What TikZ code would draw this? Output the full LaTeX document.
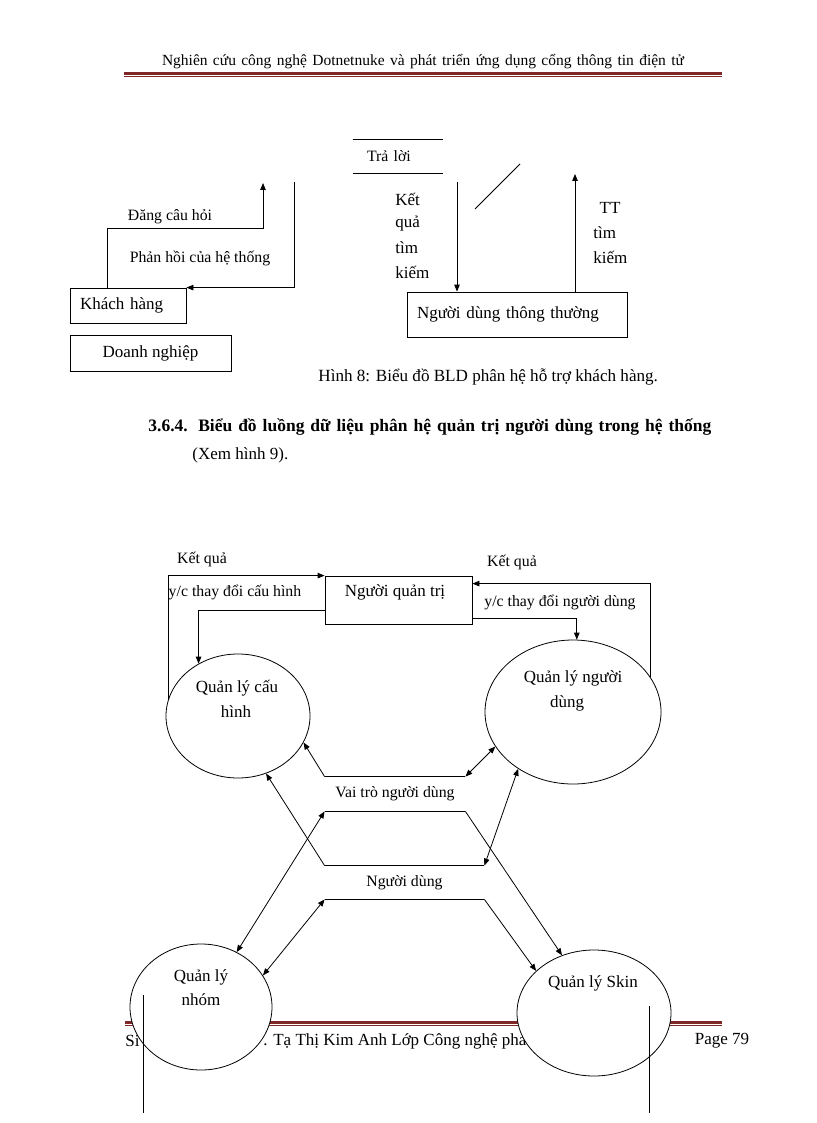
\documentclass[tikz,border=0pt]{standalone}
\usepackage{fontspec}
\setmainfont{Liberation Serif}
\usetikzlibrary{arrows.meta,calc,shapes.geometric}
\definecolor{hdr}{RGB}{128,40,40}
\newcommand{\fsA}{\fontsize{15.8}{18}\selectfont}
\newcommand{\fsB}{\fontsize{17}{20}\selectfont}
\begin{document}
\begin{tikzpicture}[x=1pt,y=-1pt,
  line width=0.8pt,
  box/.style={draw, rectangle, inner sep=0pt},
  store/.style={inner sep=0pt, append after command={(\tikzlastnode.north west) edge (\tikzlastnode.north east) (\tikzlastnode.south west) edge (\tikzlastnode.south east)}},
  ell/.style={draw, ellipse, fill=white, inner sep=0pt},
  lblA/.style={font=\fsA, inner sep=0pt},
  lblB/.style={font=\fsB, inner sep=0pt},
  arr/.style={-{Triangle[length=7pt,width=5.5pt]}},
  both/.style={{Triangle[length=7pt,width=5.5pt]}-{Triangle[length=7pt,width=5.5pt]}},
]
\useasboundingbox[fill=white] (0,0) rectangle (816,1123);

% header
\node[font=\fontsize{15.5}{18}\selectfont, inner sep=0pt] (hdrtxt) at (423,62) {\makebox[522pt][s]{Nghiên cứu công nghệ Dotnetnuke và phát triển ứng dụng cổng thông tin điện tử}};
\draw[hdr, line width=2.6pt] (124,73.8) -- (722,73.8);
\draw[hdr, line width=0.8pt] (124,76.4) -- (722,76.4);

% ---------- Figure 8 ----------
\node[box, minimum width=116pt, minimum height=35pt, text width=96pt, inner xsep=10pt, align=left, font=\fsB] (kh) at (128,305.5) {Khách hàng};
\node[box, minimum width=161pt, minimum height=36pt, font=\fsB] (dn) at (150.5,353) {Doanh nghiệp};
\node[box, minimum width=220pt, minimum height=45pt, text width=200pt, inner xsep=10pt, align=left, font=\fsB] (ndtt) at (517,314.5) {Người dùng thông thường};
\node[store, minimum width=90pt, minimum height=33pt, text width=62pt, inner xsep=14pt, align=left, font=\fsA] (tl) at (398,156.5) {Trả lời};

\coordinate (c1) at (263,183);
\draw[arr] ([xshift=38pt]kh.north west) -- ++(0,-59) -| (c1);
\node[lblA] (l1) at (170,217) {Đăng câu hỏi};
\coordinate (c2) at (294,182);
\draw[arr] (c2) |- (kh.north east);
\node[lblA] (l2) at (200,258) {Phản hồi của hệ thống};

\coordinate (d1) at (475,209);
\coordinate (d2) at (520,164);
\draw (d1) -- (d2);

\coordinate (c3) at (457,182);
\draw[arr] (c3) -- (c3 |- ndtt.north);
\coordinate (c4) at (575,174);
\draw[arr] (c4 |- ndtt.north) -- (c4);

\node[lblB, anchor=west] (k1) at (395,199) {Kết};
\node[lblB, anchor=west] (k2) at (395,224) {quả};
\node[lblB, anchor=west] (k3) at (395,248) {tìm};
\node[lblB, anchor=west] (k4) at (395,272) {kiếm};
\node[lblB] (t1) at (610,208) {TT};
\node[lblB, anchor=west] (t2) at (593,233) {tìm};
\node[lblB, anchor=west] (t3) at (593,257) {kiếm};

\node[font=\fontsize{17.1}{20}\selectfont, anchor=west, inner sep=0pt] (cap) at (318,377) {Hình 8: Biểu đồ BLD phân hệ hỗ trợ khách hàng.};

% heading
\node[font=\fontsize{17.5}{20}\selectfont\bfseries, anchor=west, inner sep=0pt] (h364) at (148,427) {\makebox[563pt][s]{3.6.4. Biểu đồ luồng dữ liệu phân hệ quản trị người dùng trong hệ thống}};
\node[lblB, anchor=west] (xem) at (192,455) {(Xem hình 9).};

% ---------- footer (under the circles) ----------
\draw[hdr, line width=2.6pt] (125,1022.5) -- (722,1022.5);
\draw[hdr, line width=0.8pt] (125,1025.2) -- (722,1025.2);
\node[lblB, anchor=west] (f1) at (125,1041) {Si};
\node[lblB, anchor=west] (f2) at (263,1041) {. Tạ Thị Kim Anh  Lớp Công nghệ pha};
\node[lblB] (pg) at (722,1041) {Page 79};

% ---------- Figure 9 ----------
\node[box, minimum width=147pt, minimum height=48pt] (nqt) at (398.5,600) {};
\node[lblB] (nqtt) at (395,592) {Người quản trị};

\node[ell, minimum width=144pt, minimum height=124pt] (qlch) at (238,716) {};
\node[ell, minimum width=176pt, minimum height=144pt] (qlnd) at (573,712) {};
\node[ell, minimum width=142pt, minimum height=126pt] (nhom) at (201,1007) {};
\node[ell, minimum width=154pt, minimum height=126pt] (skin) at (594,1013) {};

\node[lblB] (qlch1) at (237,688) {Quản lý cấu};
\node[lblB] (qlch2) at (236,712) {hình};
\node[lblB] (qlnd1) at (573,678) {Quản lý người};
\node[lblB] (qlnd2) at (567,703) {dùng};
\node[lblB] (nhom1) at (201,977) {Quản lý};
\node[lblB] (nhom2) at (201,1000) {nhóm};
\node[lblB] (skin1) at (593,983) {Quản lý Skin};

\node[store, minimum width=140pt, minimum height=34pt, font=\fsA] (vt) at (395,794) {Vai trò người dùng};
\node[store, minimum width=159pt, minimum height=33pt, font=\fsA] (nd) at (404.5,882.5) {Người dùng};

% admin loops
\draw[arr] (qlch.167) |- (nqt.north west);
\node[lblA] (kq1) at (202,559) {Kết quả};
\draw[arr] ([yshift=-35pt]nqt.north west) -| (qlch.127);
\node[lblA] (yc1) at (235,592) {y/c thay đổi cấu hình};
\draw[arr] (qlnd.24) |- ([yshift=-8pt]nqt.north east);
\node[lblA] (kq2) at (512,562) {Kết quả};
\draw[arr] ([yshift=-43pt]nqt.north east) -| (qlnd.87);
\node[lblA] (yc2) at (560,602) {y/c thay đổi người dùng};

% store connectors
\draw[arr] (vt.north west) -- (qlch.338);
\draw[both] (vt.north east) -- (qlnd.204);
\draw[both] (vt.south west) -- (nhom.57);
\draw[arr] (vt.south east) -- (skin.119);
\draw[arr] (nd.north west) -- (qlch.296);
\draw[both] (nd.north east) -- (qlnd.226);
\draw[both] (nd.south west) -- (nhom.27);
\draw[arr] (nd.south east) -- (skin.144);

% stray vertical lines
\coordinate (v1a) at (143,995);
\coordinate (v1b) at (143,1113);
\draw (v1a) -- (v1b);
\coordinate (v2a) at (649,1006);
\coordinate (v2b) at (649,1113);
\draw (v2a) -- (v2b);
\end{tikzpicture}
\end{document}
